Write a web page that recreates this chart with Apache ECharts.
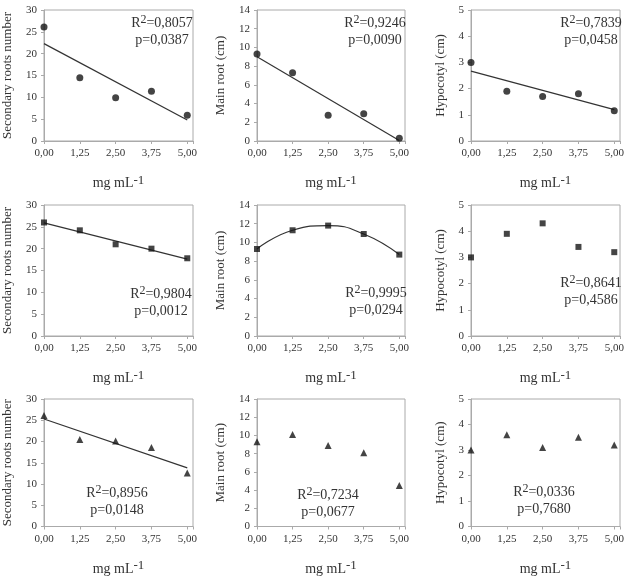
<!DOCTYPE html>
<html>
<head>
<meta charset="utf-8">
<script src="https://cdn.jsdelivr.net/npm/echarts@6/dist/echarts.min.js"></script>
<style>
  html, body { margin: 0; padding: 0; background: #fff; }
  #chart { width: 627px; height: 577px; }
</style>
</head>
<body>
<div id="chart"></div>
<script>
// doses on the x axis (mg mL-1)
var doses = [0, 1.25, 2.5, 3.75, 5];
var trendX = [0, 5];

var yNames = ['Secondary roots number', 'Main root (cm)', 'Hypocotyl (cm)'];
var yMax = [30, 14, 5];
var yStep = [5, 2, 1];

// row 1 - circles
var secRootsA = [26.1, 14.5, 9.9, 11.4, 5.9];
var mainRootA = [9.3, 7.3, 2.75, 2.9, 0.3];
var hypocotylA = [3.0, 1.9, 1.7, 1.8, 1.15];
// row 2 - squares
var secRootsB = [26.0, 24.2, 21.0, 20.0, 17.8];
var mainRootB = [9.3, 11.3, 11.8, 10.9, 8.7];
var hypocotylB = [3.0, 3.9, 4.3, 3.4, 3.2];
// row 3 - triangles
var secRootsC = [26.1, 20.5, 20.1, 18.6, 12.6];
var mainRootC = [9.3, 10.1, 8.9, 8.1, 4.5];
var hypocotylC = [3.0, 3.6, 3.1, 3.5, 3.2];

// fitted line ends (at x = 0 and x = 5)
var secRootsATrend = [22.3, 4.8];
var mainRootATrend = [9.0, 0.05];
var hypocotylATrend = [2.67, 1.2];
var secRootsBTrend = [25.9, 17.6];
var secRootsCTrend = [25.3, 13.8];

var r2Text = ['0,8057', '0,9246', '0,7839', '0,9804', '0,9995', '0,8641', '0,8956', '0,7234', '0,0336'];
var pText = ['0,0387', '0,0090', '0,0458', '0,0012', '0,0294', '0,4586', '0,0148', '0,0677', '0,7680'];

var panelValues = [secRootsA, mainRootA, hypocotylA, secRootsB, mainRootB, hypocotylB, secRootsC, mainRootC, hypocotylC];
var panelTrends = [secRootsATrend, mainRootATrend, hypocotylATrend, secRootsBTrend, 'curve', null, secRootsCTrend, null, null];

var font = 'Liberation Serif';
var txt = '#333';
var axisCol = '#aaa';

var lefts = [43, 257, 471], widths = [150, 148, 149];
var tops = [10, 205, 399], gridH = 131;
var nameGaps = [30, 30, 24];
var symbols = ['circle', 'rect', 'triangle'];
var symbolSizes = [7, 6, 7];
var statPos = [[162, 31], [375, 31], [591, 31], [161, 302], [376, 301], [591, 291], [117, 501], [328, 503], [544, 500]];

var grids = [], xAxes = [], yAxes = [], series = [], graphics = [];

for (var i = 0; i < 9; i++) {
  var row = Math.floor(i / 3), col = i % 3;
  grids.push({
    left: lefts[col], top: tops[row], width: widths[col], height: gridH,
    show: true, borderColor: axisCol, borderWidth: 1, backgroundColor: 'transparent'
  });
  xAxes.push({
    gridIndex: i, type: 'value', min: 0, max: 5.2, interval: 1.25,
    splitLine: { show: false },
    axisLine: { onZero: false, lineStyle: { color: axisCol } },
    axisTick: { length: 3, lineStyle: { color: axisCol } },
    axisLabel: {
      margin: 7, color: txt, fontFamily: font, fontSize: 11,
      formatter: function (v) { return v > 5.01 ? '' : v.toFixed(2).replace('.', ','); }
    },
    name: '{a|mg mL}{s|-1}', nameLocation: 'middle', nameGap: 33,
    nameTextStyle: {
      rich: {
        a: { fontFamily: font, fontSize: 14, color: txt },
        s: { fontFamily: font, fontSize: 13, color: txt, padding: [0, 0, 6, 0] }
      }
    }
  });
  yAxes.push({
    gridIndex: i, type: 'value', min: 0, max: yMax[col], interval: yStep[col],
    splitLine: { show: false },
    axisLine: { show: true, lineStyle: { color: axisCol } },
    axisTick: { show: true, length: 3, lineStyle: { color: axisCol } },
    axisLabel: { margin: 7, color: txt, fontFamily: font, fontSize: 11 },
    name: yNames[col], nameLocation: 'middle', nameGap: nameGaps[col],
    nameTextStyle: { fontFamily: font, fontSize: 13, color: txt }
  });

  var tr = panelTrends[i];
  if (tr === 'curve') {
    series.push({
      type: 'line', xAxisIndex: i, yAxisIndex: i, smooth: 0.5, showSymbol: false,
      lineStyle: { color: '#333', width: 1.2 }, z: 2,
      data: doses.map(function (d, k) { return [d, mainRootB[k]]; })
    });
  } else if (tr) {
    series.push({
      type: 'line', xAxisIndex: i, yAxisIndex: i, showSymbol: false,
      lineStyle: { color: '#333', width: 1.2 }, z: 2,
      data: trendX.map(function (d, k) { return [d, tr[k]]; })
    });
  }
  series.push({
    type: 'scatter', xAxisIndex: i, yAxisIndex: i,
    symbol: symbols[row], symbolSize: symbolSizes[row],
    itemStyle: { color: '#151515' }, z: 3,
    data: doses.map(function (d, k) { return [d, panelValues[i][k]]; })
  });

  graphics.push({
    type: 'text', x: statPos[i][0], y: statPos[i][1], z: 10,
    style: {
      text: '{n|R}{s|2}{n|=' + r2Text[i] + '}\n{n|p=' + pText[i] + '}',
      align: 'center', verticalAlign: 'middle',
      rich: {
        n: { fontFamily: font, fontSize: 14, fill: txt, lineHeight: 16 },
        s: { fontFamily: font, fontSize: 12, fill: txt, padding: [0, 0, 6, 0] }
      }
    }
  });
}

var myChart = echarts.init(document.getElementById('chart'));
myChart.setOption({
  animation: false,
  grid: grids,
  xAxis: xAxes,
  yAxis: yAxes,
  series: series,
  graphic: graphics
});
</script>
</body>
</html>
